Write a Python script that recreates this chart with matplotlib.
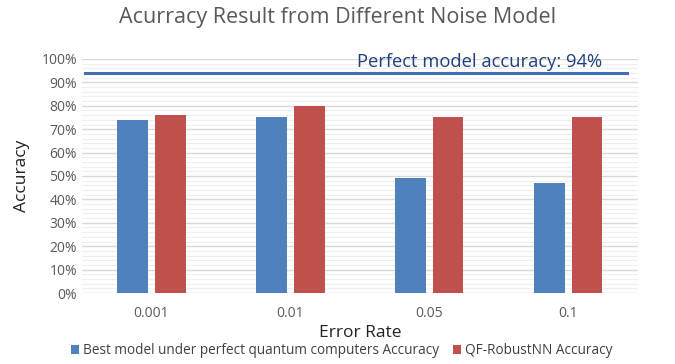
import numpy as np
import matplotlib.pyplot as plt
from matplotlib.ticker import MultipleLocator, PercentFormatter

# data
error_rates = ['0.001', '0.01', '0.05', '0.1']
best_model = [74, 75, 49, 47]
robust_nn = [76, 80, 75, 75]
perfect_acc = 94

plt.rcParams['font.family'] = ['Open Sans', 'DejaVu Sans']

fig = plt.figure(figsize=(6.75, 3.64), dpi=100)
ax = fig.add_axes([0.1215, 0.195, 0.8235, 0.643])

x = np.arange(len(error_rates))
w = 0.22
ax.bar(x - 0.135, best_model, w, color='#4F81BD', label='Best model under perfect quantum computers Accuracy', zorder=3)
ax.bar(x + 0.135, robust_nn, w, color='#C0504D', label='QF-RobustNN Accuracy', zorder=3)

ax.plot([-0.48, 3.42], [perfect_acc, perfect_acc], color='#3F6FB6', linewidth=2.2, zorder=4)
ax.text(2.36, perfect_acc + 1.0, 'Perfect model accuracy: %d%%' % perfect_acc,
        color='#1F3F7A', fontsize=13.2, ha='center', va='bottom', zorder=5)

ax.set_xlim(-0.5, 3.5)
ax.set_ylim(0, 100)
ax.yaxis.set_major_locator(MultipleLocator(10))
ax.yaxis.set_minor_locator(MultipleLocator(2))
ax.yaxis.set_major_formatter(PercentFormatter(decimals=0))
ax.grid(axis='y', which='major', color='#D9D9D9', linewidth=1.0, zorder=0)
ax.grid(axis='y', which='minor', color='#EFEFEF', linewidth=0.8, zorder=0)
ax.set_xticks(x)
ax.set_xticklabels(error_rates)
ax.tick_params(axis='both', which='both', length=0, colors='#595959', labelsize=10)
ax.tick_params(axis='x', pad=9)
for s in ax.spines.values():
    s.set_visible(False)

ax.set_ylabel('Accuracy', fontsize=12.5, color='#222222', labelpad=8)
ax.set_xlabel('Error Rate', fontsize=12.5, color='#222222', labelpad=3)
fig.suptitle('Acurracy Result from Different Noise Model', y=0.98, fontsize=15.5, color='#595959')

fig.legend(loc='center', bbox_to_anchor=(0.506, 0.036), ncol=2, frameon=False,
           fontsize=9.85, handlelength=0.6, handleheight=0.6, handletextpad=0.3,
           columnspacing=1.0, labelcolor='#404040', borderpad=0)

fig.savefig('out.png', dpi=100)
